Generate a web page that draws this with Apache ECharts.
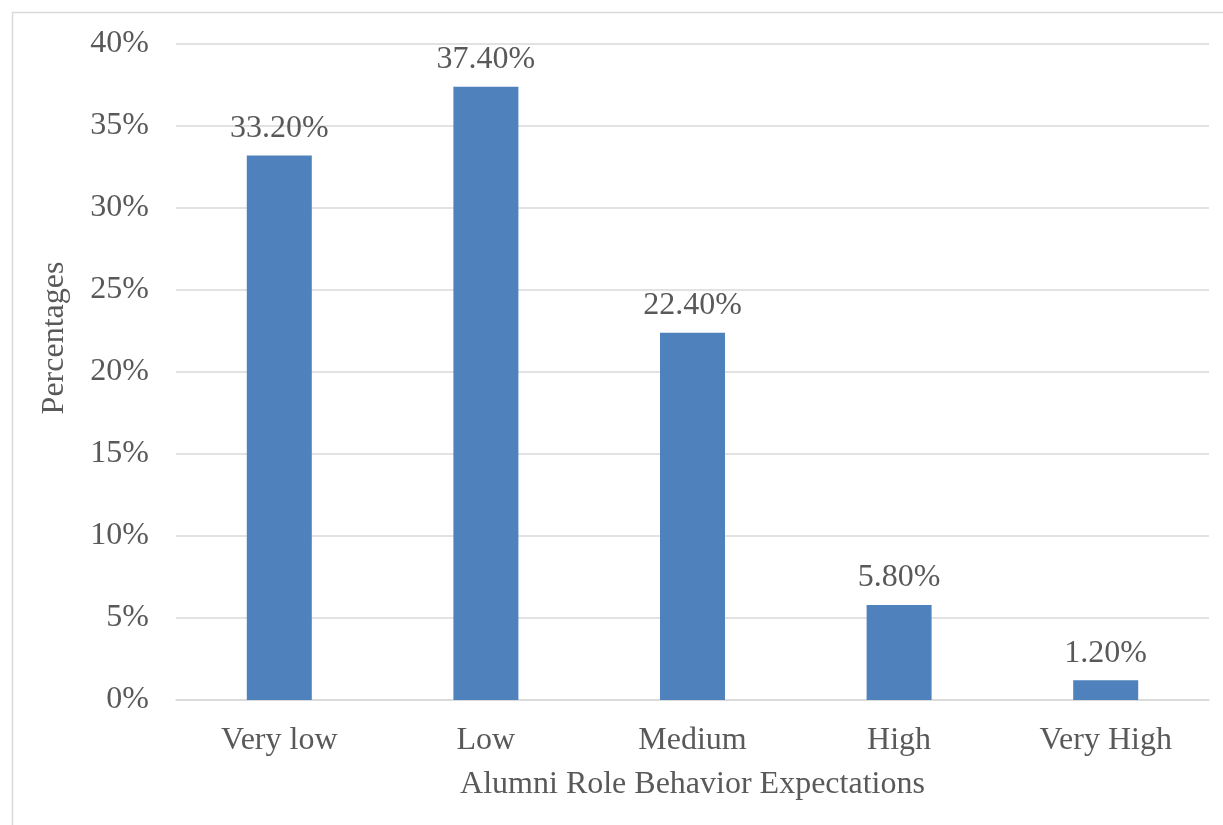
<!DOCTYPE html>
<html>
<head>
<meta charset="utf-8">
<script src="https://cdn.jsdelivr.net/npm/echarts@6/dist/echarts.min.js"></script>
<style>
  html, body { margin: 0; padding: 0; background: #fff; }
  #chart { width: 1223px; height: 825px; }
</style>
</head>
<body>
<div id="chart"></div>
<script>
// Share of respondents by level of alumni role behavior expectations
const categories = ['Very low', 'Low', 'Medium', 'High', 'Very High'];
const percentages = [33.2, 37.4, 22.4, 5.8, 1.2];
const yTicks = { min: 0, max: 40, step: 5 };
const yTitle = 'Percentages';
const xTitle = 'Alumni Role Behavior Expectations';

const FONT = '"Liberation Serif", "Times New Roman", serif';
const TEXT = '#595959';
const SIZE = 32;

const chart = echarts.init(document.getElementById('chart'), null, { renderer: 'canvas' });
chart.setOption({
  backgroundColor: '#ffffff',
  animation: false,
  graphic: [
    {
      type: 'rect',
      shape: { x: 12.5, y: 12.5, width: 1300, height: 900 },
      style: { fill: 'none', stroke: '#d9d9d9', lineWidth: 1.5 },
      silent: true
    },
    {
      // vertical axis title, sits a little above the plot's midline
      type: 'text',
      x: 55,
      y: 338,
      rotation: Math.PI / 2,
      style: {
        text: yTitle,
        fill: TEXT,
        font: SIZE + 'px ' + FONT,
        textAlign: 'center',
        textVerticalAlign: 'middle'
      },
      silent: true
    }
  ],
  grid: { left: 176, right: 14, top: 44, bottom: 125 },
  xAxis: {
    type: 'category',
    data: categories,
    axisLine: { show: true, lineStyle: { color: '#d9d9d9', width: 1.5 } },
    axisTick: { show: false },
    axisLabel: { color: TEXT, fontFamily: FONT, fontSize: SIZE, margin: 25 },
    name: xTitle,
    nameLocation: 'middle',
    nameGap: 69,
    nameTextStyle: { color: TEXT, fontFamily: FONT, fontSize: SIZE }
  },
  yAxis: {
    type: 'value',
    min: yTicks.min,
    max: yTicks.max,
    interval: yTicks.step,
    axisLine: { show: false },
    axisTick: { show: false },
    splitLine: { lineStyle: { color: '#d9d9d9', width: 1.5 } },
    axisLabel: { color: TEXT, fontFamily: FONT, fontSize: SIZE, margin: 27, formatter: v => v + '%' }
  },
  series: [{
    type: 'bar',
    data: percentages,
    barWidth: 65,
    itemStyle: { color: '#4f81bd' },
    label: {
      show: true,
      position: 'top',
      distance: 11,
      color: TEXT,
      fontFamily: FONT,
      fontSize: SIZE,
      formatter: p => p.value.toFixed(2) + '%'
    }
  }]
});
</script>
</body>
</html>
